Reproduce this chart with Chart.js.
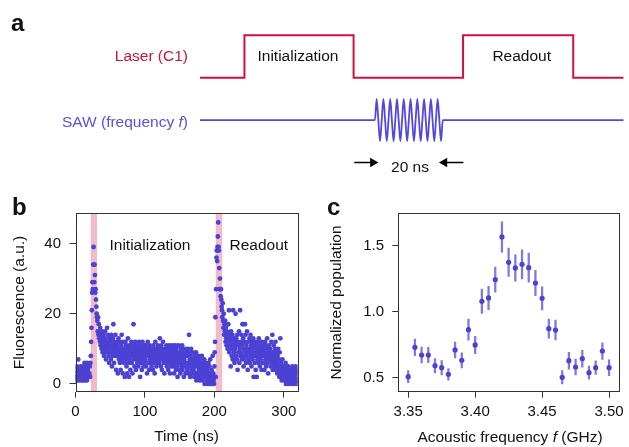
<!DOCTYPE html>
<html>
<head>
<meta charset="utf-8">
<script src="https://cdn.jsdelivr.net/npm/chart.js@4.4.1/dist/chart.umd.min.js"></script>
<style>
  html, body { margin: 0; padding: 0; background: #fff; }
  #fig { position: relative; width: 629px; height: 447px; overflow: hidden;
         font-family: "Liberation Sans", Arial, Helvetica, sans-serif; color: #111; }
  canvas { position: absolute; }
  .txt { position: absolute; white-space: nowrap; line-height: 1; font-size: 15.5px; }
  .mid { transform: translate(-50%, -50%); }
  .right { transform: translate(-100%, -50%); }
  .panel { font-weight: bold; font-size: 24px; line-height: 24px; }
</style>
</head>
<body>
<div id="fig">
  <canvas id="timing" width="629" height="190" style="left:0;top:0"></canvas>
  <canvas id="trace" width="310" height="257" style="left:0;top:190px"></canvas>
  <canvas id="spectrum" width="319" height="257" style="left:310px;top:190px"></canvas>

  <div class="txt panel" style="left:11px;top:11px">a</div>
  <div class="txt panel" style="left:12px;top:194.7px">b</div>
  <div class="txt panel" style="left:327px;top:194.7px">c</div>

  <div class="txt right" style="left:188px;top:56px;color:#d2103f">Laser (C1)</div>
  <div class="txt right" style="left:188px;top:121.7px;color:#5a4fe0">SAW (frequency <i>f</i>)</div>
  <div class="txt mid" style="left:298px;top:55.5px">Initialization</div>
  <div class="txt mid" style="left:521.7px;top:55.5px">Readout</div>
  <div class="txt mid" style="left:410px;top:167px">20 ns</div>

  <div class="txt mid" style="left:150px;top:244.8px">Initialization</div>
  <div class="txt mid" style="left:258.8px;top:244.8px">Readout</div>

  <div class="txt mid" style="left:510px;top:436.8px">Acoustic frequency <i>f</i> (GHz)</div>
</div>

<script>
// ---- panel a: pulse sequence (time in ns) ----
const laserTime  = [0, 13.1, 13.1, 45.3, 45.3, 77.6, 77.6, 110.1, 110.1, 126];
const laserLevel = [2, 2, 4, 4, 2, 2, 4, 4, 2, 2];
const sawTime  = [0, 51.6, 52.1, 52.6, 53.1, 53.6, 54.1, 54.6, 55.1, 55.6, 56.1, 56.6, 57.1, 57.6,
                  58.1, 58.6, 59.1, 59.6, 60.1, 60.6, 61.1, 61.6, 62.1, 62.6, 63.1, 63.6, 64.1,
                  64.6, 65.1, 65.6, 66.1, 66.6, 67.1, 67.6, 68.1, 68.6, 69.1, 69.6, 70.1, 70.6,
                  71.1, 71.6, 126];
const sawLevel = [0, 0, 1, 0, -1, 0, 1, 0, -1, 0, 1, 0, -1, 0, 1, 0, -1, 0, 1, 0, -1, 0,
                  1, 0, -1, 0, 1, 0, -1, 0, 1, 0, -1, 0, 1, 0, -1, 0, 1, 0, -1, 0, 0];
const arrowLevel = -2;
const leftArrow  = [45.5, 51.0];   // tail, head
const rightArrow = [77.7, 72.1];

// ---- panel b: fluorescence trace, 0.5 ns bins ----
const binWidth = 0.5;
const fluorescence = [
  3,1,4,2,5,2,1,3,7,2,4,3,1,2,4,5,2,3,1,4,
  2,4,1,3,5,2,6,3,1,4,2,5,3,1,6,2,4,3,5,2,
  3,5,2,6,8,12,16,21,26,29,27,34,39,34,29,34,31,26,27,24,
  22,20,19,18,15,19,14,17,13,15,12,16,11,14,13,10,15,12,9,13,
  11,14,8,12,10,15,9,13,7,11,12,16,9,10,14,8,12,6,11,13,
  9,12,7,14,10,5,11,8,13,17,9,6,12,10,8,14,11,4,9,12,
  8,11,3,10,13,7,9,12,6,10,4,8,11,14,7,9,3,12,8,10,
  6,10,2,9,12,7,11,5,8,3,10,13,6,9,2,11,7,10,4,8,
  9,12,6,10,3,8,11,17,7,10,5,9,12,8,4,10,7,11,6,9,
  8,5,10,12,7,9,2,11,6,8,10,4,9,12,7,10,5,8,11,6,
  9,7,11,5,10,8,3,9,12,6,10,8,4,11,7,9,6,10,8,5,
  10,7,9,4,11,8,6,10,3,9,12,7,8,5,10,9,6,11,7,8,
  9,6,10,13,7,8,5,11,9,4,10,7,12,8,6,9,3,10,7,8,
  6,9,11,5,8,7,10,4,9,6,11,8,3,7,10,5,9,8,6,11,
  7,5,10,8,3,9,6,11,7,4,8,10,5,9,2,7,11,6,8,4,
  9,6,3,8,10,5,7,11,4,8,6,9,2,7,10,5,8,3,6,9,
  5,8,4,10,6,3,9,14,5,7,2,8,6,10,4,7,3,9,5,6,
  4,7,2,8,5,3,6,9,1,5,7,3,6,2,8,4,5,1,7,3,
  5,2,6,3,8,1,4,6,2,5,3,7,0,4,2,6,3,1,5,2,
  4,0,3,6,1,0,5,2,7,0,3,1,4,0,2,8,0,3,1,0,
  5,9,12,19,2,27,36,38,35,39,42,46,39,38,33,27,30,27,25,27,
  24,22,21,19,23,18,16,20,14,17,15,18,12,16,13,11,15,14,10,13,
  17,12,21,9,14,11,13,5,15,10,8,12,14,7,21,11,9,13,6,12,
  10,20,8,13,11,7,14,4,12,9,11,15,6,10,21,8,12,9,14,7,
  11,17,8,13,5,10,12,7,17,9,14,6,11,8,15,10,4,12,9,7,
  10,13,6,9,14,8,11,5,12,9,7,10,13,2,8,11,6,9,12,4,
  8,11,2,10,7,12,9,6,13,8,10,5,11,7,9,12,4,8,10,6,
  9,11,6,10,4,8,12,7,9,5,11,8,13,6,10,3,9,7,11,8,
  7,10,5,9,12,6,8,14,4,9,7,11,5,8,6,10,12,4,7,9,
  6,3,8,5,10,4,7,2,9,5,13,3,6,4,1,5,7,2,4,3,
  2,5,1,4,3,6,0,2,5,3,1,4,2,5,0,3,1,4,2,3,
  1,4,2,3,0,5,2,1,3,4,2,0,3,1,5,2,3,1,4,0
];
const laserWindows = [[21.6, 31.3], [201.6, 211.7]];
const traceTicksX = [0, 100, 200, 300];
const traceTicksY = [0, 20, 40];

// ---- panel c: SAW spectroscopy ----
const frequency = [3.350, 3.355, 3.360, 3.365, 3.370, 3.375, 3.380, 3.385, 3.390, 3.395, 3.400,
                   3.405, 3.410, 3.415, 3.420, 3.425, 3.430, 3.435, 3.440, 3.445, 3.450,
                   3.455, 3.460, 3.465, 3.470, 3.475, 3.480, 3.485, 3.490, 3.495, 3.500];
const population = [0.508, 0.730, 0.672, 0.672, 0.591, 0.576, 0.526, 0.710, 0.632, 0.864, 0.748,
                     1.079, 1.104, 1.242, 1.566, 1.374, 1.331, 1.359, 1.333, 1.217, 1.101,
                     0.871, 0.861, 0.503, 0.629, 0.581, 0.644, 0.538, 0.576, 0.702, 0.576];
const populationErr = [0.045, 0.063, 0.060, 0.058, 0.054, 0.054, 0.044, 0.060, 0.057, 0.080, 0.066,
                       0.093, 0.088, 0.095, 0.115, 0.107, 0.100, 0.110, 0.110, 0.096, 0.088,
                       0.072, 0.075, 0.050, 0.064, 0.060, 0.064, 0.050, 0.052, 0.063, 0.060];
const spectrumTicksX = [3.35, 3.40, 3.45, 3.50];
const spectrumTicksY = [0.5, 1.0, 1.5];

const laserColor = '#d2103f';
const sawColor = '#5448dc';
const dotColor = '#4b41d4';
const errColor = 'rgba(84, 74, 216, 0.75)';
const bandColor = '#f0bccb';
const axisColor = '#333';
const textColor = '#111';

Chart.defaults.font.family = '"Liberation Sans", Arial, Helvetica, sans-serif';
Chart.defaults.color = textColor;

const framePlugin = {
  id: 'frame',
  afterDatasetsDraw(chart) {
    const { ctx, chartArea: a } = chart;
    ctx.save();
    ctx.strokeStyle = axisColor;
    ctx.lineWidth = 1;
    ctx.strokeRect(Math.round(a.left) + 0.5, Math.round(a.top) + 0.5,
                   Math.round(a.right - a.left), Math.round(a.bottom - a.top));
    ctx.restore();
  }
};

const pts = (xs, ys) => xs.map((x, i) => ({ x: x, y: ys[i] }));
const noUi = { legend: { display: false }, tooltip: { enabled: false } };

// panel a
new Chart(document.getElementById('timing'), {
  type: 'line',
  data: {
    datasets: [
      { data: pts(laserTime, laserLevel), borderColor: laserColor, borderWidth: 2,
        pointRadius: 0, tension: 0 },
      { data: pts(sawTime, sawLevel), borderColor: sawColor, borderWidth: 1.8,
        pointRadius: 0, cubicInterpolationMode: 'monotone' },
      { data: pts(leftArrow, [arrowLevel, arrowLevel]), borderColor: '#000', borderWidth: 1.5,
        pointRadius: [0, 5.5], pointStyle: 'triangle', pointRotation: 90,
        pointBackgroundColor: '#000', pointBorderWidth: 0 },
      { data: pts(rightArrow, [arrowLevel, arrowLevel]), borderColor: '#000', borderWidth: 1.5,
        pointRadius: [0, 5.5], pointStyle: 'triangle', pointRotation: -90,
        pointBackgroundColor: '#000', pointBorderWidth: 0 }
    ]
  },
  options: {
    responsive: false, animation: false, events: [],
    layout: { padding: 0 },
    plugins: noUi,
    scales: {
      x: { type: 'linear', display: false, min: -57.39, max: 124.93 },
      y: { display: false, min: -3.036, max: 5.409 }
    }
  }
});

const tickFont = { size: 15 };
const titleFont = { size: 15.5 };
const tickGrid = { drawOnChartArea: false, tickLength: 6, color: axisColor, lineWidth: 1 };

// panel b
const bYMin = -2.2, bYMax = 48.6;
new Chart(document.getElementById('trace'), {
  type: 'scatter',
  data: {
    datasets: [
      { data: fluorescence.map((v, i) => ({ x: i * binWidth, y: v })),
        pointRadius: 2.4, backgroundColor: dotColor, pointBackgroundColor: dotColor,
        pointBorderWidth: 0, order: 1 },
      ...laserWindows.map(w => ({
        type: 'line', data: [{ x: w[0], y: bYMax }, { x: w[1], y: bYMax }],
        fill: 'start', backgroundColor: bandColor, borderWidth: 0, pointRadius: 0, order: 2
      }))
    ]
  },
  options: {
    responsive: false, animation: false, events: [],
    layout: { padding: { left: 0, top: 23.3, right: 12.3, bottom: 0 } },
    plugins: noUi,
    scales: {
      x: {
        type: 'linear', min: 0, max: 320, offset: false,
        afterFit: s => { s.height = 55.3; },
        afterBuildTicks: s => { s.ticks = traceTicksX.map(v => ({ value: v })); },
        grid: tickGrid, border: { display: false },
        ticks: { padding: 5, font: tickFont, color: textColor, autoSkip: false, maxRotation: 0 },
        title: { display: true, text: 'Time (ns)', font: titleFont, color: textColor,
                 padding: { top: 0, bottom: 1 } }
      },
      y: {
        min: bYMin, max: bYMax,
        afterFit: s => { s.width = 75.5; },
        afterBuildTicks: s => { s.ticks = traceTicksY.map(v => ({ value: v })); },
        grid: tickGrid, border: { display: false },
        ticks: { padding: 8.5, font: tickFont, color: textColor, autoSkip: false },
        title: { display: true, text: 'Fluorescence (a.u.)', font: titleFont, color: textColor,
                 padding: { top: 10.6, bottom: 0 } }
      }
    }
  },
  plugins: [framePlugin]
});

// panel c
new Chart(document.getElementById('spectrum'), {
  type: 'scatter',
  data: {
    datasets: [
      { data: pts(frequency, population), pointRadius: 2.6, backgroundColor: dotColor,
        pointBackgroundColor: dotColor, pointBorderWidth: 0, order: 1 },
      { type: 'bar',
        data: frequency.map((f, i) => ({ x: f, y: [population[i] - populationErr[i], population[i] + populationErr[i]] })),
        backgroundColor: errColor, borderWidth: 0, barThickness: 1.6, order: 2 }
    ]
  },
  options: {
    responsive: false, animation: false, events: [],
    layout: { padding: { left: 0, top: 23.3, right: 7.3, bottom: 0 } },
    plugins: noUi,
    scales: {
      x: {
        type: 'linear', min: 3.3426, max: 3.5074, offset: false,
        afterFit: s => { s.height = 55.3; },
        afterBuildTicks: s => { s.ticks = spectrumTicksX.map(v => ({ value: v })); },
        grid: { ...tickGrid, offset: false }, border: { display: false },
        ticks: { padding: 5, font: tickFont, color: textColor, autoSkip: false, maxRotation: 0,
                 callback: v => v.toFixed(2) }
      },
      y: {
        type: 'linear', min: 0.394, max: 1.745,
        afterFit: s => { s.width = 88.3; },
        afterBuildTicks: s => { s.ticks = spectrumTicksY.map(v => ({ value: v })); },
        grid: tickGrid, border: { display: false },
        ticks: { padding: 8.3, font: tickFont, color: textColor, autoSkip: false,
                 callback: v => v.toFixed(1) },
        title: { display: true, text: 'Normalized population', font: titleFont, color: textColor,
                 padding: { top: 17, bottom: 0 } }
      }
    }
  },
  plugins: [framePlugin]
});
</script>
</body>
</html>
